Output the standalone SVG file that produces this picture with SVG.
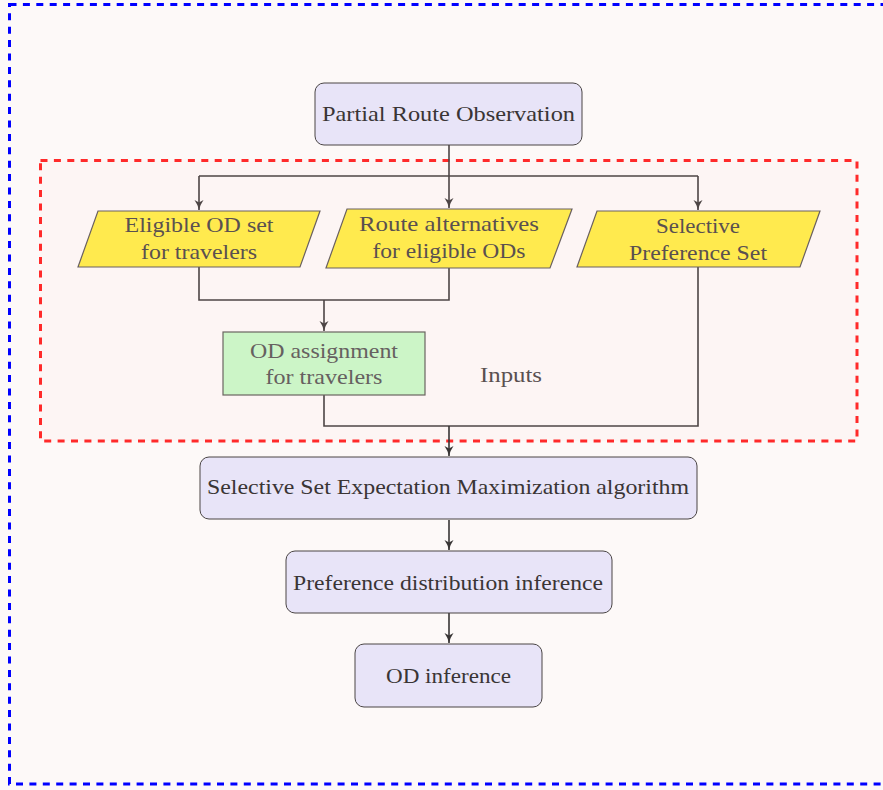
<svg xmlns="http://www.w3.org/2000/svg" width="883" height="790" viewBox="0 0 883 790">
<style>
  .t { font-family: "Liberation Serif", "DejaVu Serif", serif; font-size: 21px; text-anchor: middle; }
  .dark { fill: #3a3535; }
  .mid { fill: #5a5050; }
  .lav { fill: #e8e4f8; stroke: #4a4545; stroke-width: 1; }
  .yel { fill: #ffea4e; stroke: #6a6060; stroke-width: 1.2; }
  .grn { fill: #ccf5c7; stroke: #6a6560; stroke-width: 1.2; }
  .con { fill: none; stroke: #4d4545; stroke-width: 1.6; }
  .con2 { fill: none; stroke: #383535; stroke-width: 1.6; }
</style>
<defs>
  <marker id="arr" markerWidth="12" markerHeight="12" refX="11" refY="6" orient="auto" markerUnits="userSpaceOnUse">
    <path d="M1,1.5 Q6,5 11,6 Q6,7 1,10.5 L3.5,6 Z" fill="#4d4545"/>
  </marker>
  <marker id="arr2" markerWidth="12" markerHeight="12" refX="11" refY="6" orient="auto" markerUnits="userSpaceOnUse">
    <path d="M1,1.5 Q6,5 11,6 Q6,7 1,10.5 L3.5,6 Z" fill="#383535"/>
  </marker>
</defs>
<rect x="0" y="0" width="883" height="790" fill="#fdf9f8"/>
<rect x="9.5" y="4.5" width="890" height="779.5" fill="#fdf9f8" stroke="#0000ff" stroke-width="3" stroke-dasharray="7 6.4"/>
<rect x="40.5" y="160.5" width="816.5" height="280.5" fill="#fdf5f4" stroke="#ff2a2a" stroke-width="3" stroke-dasharray="7 6.4"/>

<g id="connectors">
  <path class="con" d="M449,145 V176"/>
  <path class="con" d="M199,176 H698"/>
  <path class="con" d="M199,176 V210" marker-end="url(#arr)"/>
  <path class="con" d="M449,176 V208" marker-end="url(#arr)"/>
  <path class="con" d="M698,176 V210" marker-end="url(#arr)"/>
  <path class="con" d="M199,267 V300 H449 V268"/>
  <path class="con" d="M324,300 V331" marker-end="url(#arr)"/>
  <path class="con" d="M324,395 V426 H698 V267"/>
  <path class="con2" d="M449,426 V456" marker-end="url(#arr2)"/>
  <path class="con2" d="M449,520 V550" marker-end="url(#arr2)"/>
  <path class="con2" d="M449,613 V643" marker-end="url(#arr2)"/>
</g>

<g id="partial-route">
  <rect class="lav" x="315" y="83" width="267" height="62" rx="9"/>
  <text class="t dark" x="448.5" y="121" textLength="253" lengthAdjust="spacingAndGlyphs">Partial Route Observation</text>
</g>

<g id="eligible-od">
  <polygon class="yel" points="98,211 320,211 300,267 78,267"/>
  <text class="t mid" x="199" y="232" textLength="149" lengthAdjust="spacingAndGlyphs">Eligible OD set</text>
  <text class="t mid" x="199" y="259" textLength="116" lengthAdjust="spacingAndGlyphs">for travelers</text>
</g>

<g id="route-alternatives">
  <polygon class="yel" points="347,209 572,209 550,268 326,268"/>
  <text class="t mid" x="449" y="231" textLength="180" lengthAdjust="spacingAndGlyphs">Route alternatives</text>
  <text class="t mid" x="449" y="258" textLength="153" lengthAdjust="spacingAndGlyphs">for eligible ODs</text>
</g>

<g id="selective-preference">
  <polygon class="yel" points="597,211 820,211 800,267 577,267"/>
  <text class="t mid" x="698" y="233" textLength="84" lengthAdjust="spacingAndGlyphs">Selective</text>
  <text class="t mid" x="698" y="260" textLength="138" lengthAdjust="spacingAndGlyphs">Preference Set</text>
</g>

<g id="od-assignment">
  <rect class="grn" x="223" y="332" width="202" height="63"/>
  <text class="t" fill="#666060" x="324" y="358" textLength="148" lengthAdjust="spacingAndGlyphs">OD assignment</text>
  <text class="t" fill="#666060" x="324" y="384" textLength="117" lengthAdjust="spacingAndGlyphs">for travelers</text>
</g>

<g id="inputs-label">
  <text class="t mid" x="511" y="382" textLength="62" lengthAdjust="spacingAndGlyphs">Inputs</text>
</g>

<g id="ssem">
  <rect class="lav" x="200" y="457" width="497" height="62" rx="9"/>
  <text class="t dark" x="448" y="494" textLength="482" lengthAdjust="spacingAndGlyphs">Selective Set Expectation Maximization algorithm</text>
</g>

<g id="preference-distribution">
  <rect class="lav" x="286" y="551" width="326" height="62" rx="9"/>
  <text class="t dark" x="448" y="590" textLength="310" lengthAdjust="spacingAndGlyphs">Preference distribution inference</text>
</g>

<g id="od-inference">
  <rect class="lav" x="355" y="644" width="187" height="63" rx="9"/>
  <text class="t dark" x="448.5" y="683" textLength="125" lengthAdjust="spacingAndGlyphs">OD inference</text>
</g>
</svg>
